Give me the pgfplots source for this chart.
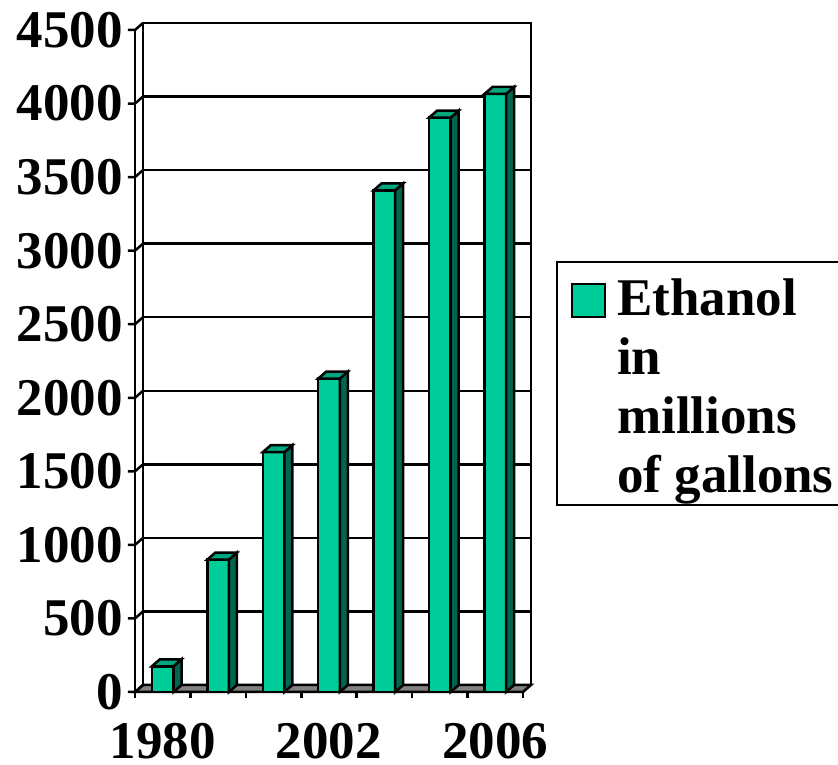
\documentclass[border=0pt]{standalone}
\usepackage{fontspec}
\setmainfont{Liberation Serif}
\usepackage{pgfplots}
\usepackage{pgfplotstable}
\pgfplotsset{compat=1.18}
\definecolor{barfront}{HTML}{00CC99}
\definecolor{barside}{HTML}{006650}
\definecolor{bartop}{HTML}{00A67D}
\definecolor{floorgray}{HTML}{808080}

\pgfplotstableread{
x v
1 175
2 900
3 1630
4 2130
5 3410
6 3904
7 4065
}\ethanol

\def\hw{0.195}
\def\ddx{0.14433}
\def\ddy{47.58}

\begin{document}
\begin{tikzpicture}
\useasboundingbox (-135pt,-73pt) rectangle (703pt,692pt);
\begin{axis}[
  scale only axis, width=388pt, height=662pt,
  xmin=0.5, xmax=7.5, ymin=0, ymax=4500,
  clip=false,
  axis line style={draw=none},
  major tick length=0pt,
  xtick={1,4,7}, xticklabels={1980,2002,2006},
  ytick={0,500,1000,1500,2000,2500,3000,3500,4000,4500},
  yticklabels={0,500,1000,1500,2000,2500,3000,3500,4000,4500},
  tick label style={font=\fontsize{53}{59}\selectfont\bfseries, inner sep=0pt},
  xticklabel style={anchor=north, yshift=-31pt},
  yticklabel style={anchor=east, xshift=-12pt},
  /pgf/number format/assume math mode=true,
]
% back wall
\addplot[fill=white, draw=black, line width=2.5pt] coordinates {(0.64433,47.58) (7.64433,47.58) (7.64433,4547.58) (0.64433,4547.58)} -- cycle;
% gridlines on back wall
\pgfplotsinvokeforeach{500,1000,1500,2000,2500,3000,3500,4000}{
  \draw[line width=2.5pt] ([shift={(8pt,7pt)}]axis cs:0.5,#1) -- ([shift={(8pt,7pt)}]axis cs:7.5,#1);
}
% floor
\addplot[fill=floorgray, draw=black, line width=2.5pt] coordinates {(0.5,0) (7.5,0) (7.64433,47.58) (0.64433,47.58)} -- cycle;
% left wall: front axis line and ticks
\draw[line width=2.5pt] (axis cs:0.5,0) -- (axis cs:0.5,4500);
\pgfplotsinvokeforeach{0,500,1000,1500,2000,2500,3000,3500,4000,4500}{
  \draw[line width=2.5pt] ([xshift=-7pt]axis cs:0.5,#1) -- (axis cs:0.5,#1) -- ([shift={(8pt,7pt)}]axis cs:0.5,#1);
}
% x ticks
\pgfplotsinvokeforeach{0.5,1.5,2.5,3.5,4.5,5.5,6.5,7.5}{
  \draw[line width=2.5pt] (axis cs:#1,0) -- ([yshift=-6pt]axis cs:#1,0);
}
% bars: front faces
\addplot[ybar, bar width=0.39, fill=barfront, draw=black, line width=2.5pt] table[x=x,y=v]{\ethanol};
% bars: side and top faces
\pgfplotsinvokeforeach{0,...,6}{
  \pgfplotstablegetelem{#1}{x}\of\ethanol
  \pgfmathsetmacro\xa{\pgfplotsretval-\hw}
  \pgfmathsetmacro\xb{\pgfplotsretval+\hw}
  \pgfmathsetmacro\xc{\pgfplotsretval-\hw+\ddx}
  \pgfmathsetmacro\xd{\pgfplotsretval+\hw+\ddx}
  \pgfplotstablegetelem{#1}{v}\of\ethanol
  \pgfmathsetmacro\ya{\pgfplotsretval}
  \pgfmathsetmacro\yb{\pgfplotsretval+\ddy}
  \edef\doit{%
    \noexpand\addplot[fill=barside, draw=black, line width=2.5pt] coordinates {(\xb,0) (\xb,\ya) (\xd,\yb) (\xd,\ddy)} -- cycle;
    \noexpand\addplot[fill=bartop, draw=black, line width=2.5pt] coordinates {(\xa,\ya) (\xb,\ya) (\xd,\yb) (\xc,\yb)} -- cycle;
  }\doit
}
\end{axis}
% legend
\draw[line width=2pt] (720pt,430pt) -- (422pt,430pt) -- (422pt,187pt) -- (720pt,187pt);
\draw[line width=1.5pt, fill=barfront] (437pt,375pt) rectangle (470pt,408pt);
\begin{scope}[every node/.style={anchor=base west, inner sep=0pt, font=\fontsize{53}{59}\selectfont\bfseries}]
\node at (482pt,376pt) {Ethanol};
\node at (482pt,317pt) {in};
\node at (482pt,258pt) {millions};
\node at (482pt,199pt) {of gallons};
\end{scope}
\end{tikzpicture}
\end{document}
